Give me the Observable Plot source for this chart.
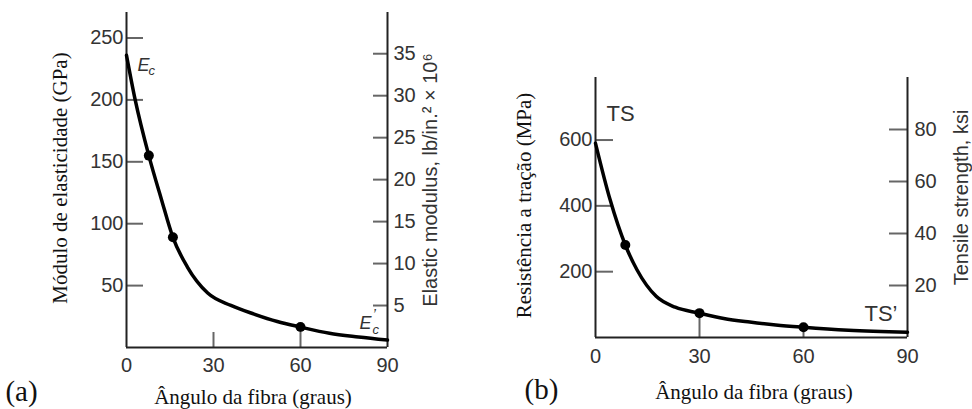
<!DOCTYPE html>
<html><head><meta charset="utf-8">
<script src="https://cdn.jsdelivr.net/npm/d3@7"></script>
<script src="https://cdn.jsdelivr.net/npm/@observablehq/plot@0.6"></script>
<style>
html,body{margin:0;padding:0;background:#fff;overflow:hidden;}
#wrap{position:relative;width:972px;height:409px;}
.panel{position:absolute;top:0;width:486px;height:409px;}
.panel svg{overflow:visible;}
</style></head><body>
<div id="wrap"><div class="panel" id="pa" style="left:0"></div><div class="panel" id="pb" style="left:486px"></div></div>
<script>
const SANS = "Liberation Sans, Arial, sans-serif";
const SERIF = "Liberation Serif, Times New Roman, serif";

// shared x axis (fiber angle, degrees)
const xTicks = [0, 30, 60, 90];

// (a) elastic modulus
const angleA   = [0, 3, 7.7, 12, 16, 21, 28, 36, 44, 52, 60, 70, 80, 90];
const modulusA = [236, 200, 155, 120, 89, 65, 44, 34, 27, 21, 16.5, 11.5, 8.5, 6];
const dotAngleA   = [7.7, 16, 60];
const dotModulusA = [155, 89, 16.5];
const gpaTicks = [50, 100, 150, 200, 250];
const msiTicks = [5, 10, 15, 20, 25, 30, 35];
const gpaPerMsi = 6.78;          // right-axis scale as drawn
const innerXTicksA = [30, 60];

// (b) tensile strength
const angleB    = [0, 4.2, 8.6, 12, 17.5, 23, 30, 37, 44.5, 52, 60, 73, 90];
const strengthB = [590, 419, 281, 205, 125, 92, 74, 58, 47, 38, 31, 22, 16];
const dotAngleB    = [8.6, 30, 60];
const dotStrengthB = [281, 74, 31];
const mpaTicks = [200, 400, 600];
const ksiTicks = [20, 40, 60, 80];
const mpaPerKsi = 7.9;           // right-axis scale as drawn

const curveA = angleA.map((x, i) => ({x, y: modulusA[i]}));
const dotsA = dotAngleA.map((x, i) => ({x, y: dotModulusA[i]}));
const curveB = angleB.map((x, i) => ({x, y: strengthB[i]}));
const dotsB = dotAngleB.map((x, i) => ({x, y: dotStrengthB[i]}));

const TICK = "#666", AXIS = "#222", LAB = "#333";
const T = {textAnchor: "middle", lineAnchor: "middle"};

const firstA = curveA[0], lastA = curveA[curveA.length - 1];
const plotA = Plot.plot({
  width: 486, height: 409,
  marginLeft: 126, marginRight: 99, marginTop: 12, marginBottom: 62,
  x: {domain: [0, 90]},
  y: {domain: [0, 270.6]},
  style: {fontFamily: SANS, fontSize: "20px", background: "white", overflow: "visible"},
  marks: [
    Plot.ruleY(gpaTicks, {y: d => d, x1: () => 0, x2: () => 0, insetRight: -17, stroke: TICK, strokeWidth: 2}),
    Plot.ruleY(msiTicks, {y: d => d * gpaPerMsi, x1: () => 90, x2: () => 90, insetLeft: -14, stroke: TICK, strokeWidth: 2}),
    Plot.ruleX(innerXTicksA, {x: d => d, y1: () => 0, y2: () => 0, insetTop: -15, stroke: TICK, strokeWidth: 2}),
    Plot.ruleX([0, 90], {stroke: AXIS, strokeWidth: 2}),
    Plot.ruleY([0], {stroke: AXIS, strokeWidth: 2}),
    Plot.axisY({ticks: gpaTicks, tickSize: 0, tickPadding: 3, label: null, color: LAB}),
    Plot.axisY({anchor: "right", ticks: msiTicks.map(v => v * gpaPerMsi), tickFormat: d => Math.round(d / gpaPerMsi), tickSize: 0, tickPadding: 6, label: null, color: LAB}),
    Plot.axisX({ticks: xTicks, tickSize: 0, tickPadding: 10, label: null, color: LAB}),
    Plot.line(curveA, {x: "x", y: "y", curve: "monotone-x", stroke: "#000", strokeWidth: 3.5}),
    Plot.dot(dotsA, {x: "x", y: "y", r: 5, fill: "#000"}),
    Plot.text([firstA], {x: "x", y: "y", text: () => "E", fontStyle: "italic", fontSize: 18, textAnchor: "start", dx: 11, dy: 10, fill: LAB}),
    Plot.text([firstA], {x: "x", y: "y", text: () => "c", fontStyle: "italic", fontSize: 13, textAnchor: "start", dx: 22, dy: 15, fill: LAB}),
    Plot.text([lastA], {x: "x", y: "y", text: () => "E", fontStyle: "italic", fontSize: 18, textAnchor: "start", dx: -28, dy: -17, fill: LAB}),
    Plot.text([lastA], {x: "x", y: "y", text: () => "\u2019", fontStyle: "italic", fontSize: 15, textAnchor: "start", dx: -15, dy: -26, fill: LAB}),
    Plot.text([lastA], {x: "x", y: "y", text: () => "c", fontStyle: "italic", fontSize: 13, textAnchor: "start", dx: -15, dy: -10, fill: LAB}),
    Plot.text(["Ângulo da fibra (graus)"], {...T, text: d => d, frameAnchor: "bottom", dx: -4, dy: 50, fontFamily: SERIF, fontSize: 21, fill: "#111"}),
    Plot.text(["(a)"], {...T, text: d => d, frameAnchor: "bottom-left", dx: -105, dy: 44, fontFamily: SERIF, fontSize: 29, fill: "#111"}),
    Plot.text(["Módulo de elasticidade (GPa)"], {...T, text: d => d, frameAnchor: "left", rotate: -90, dx: -66, dy: -2, fontFamily: SERIF, fontSize: 21, fill: "#111"}),
    Plot.text(["Elastic modulus, lb/in.² × 10⁶"], {...T, text: d => d, frameAnchor: "right", rotate: -90, dx: 43, fontFamily: SANS, fontSize: 20, fill: LAB})
  ]
});
document.getElementById("pa").appendChild(plotA);

const firstB = curveB[0], lastB = curveB[curveB.length - 1];
const plotB = Plot.plot({
  width: 486, height: 409,
  marginLeft: 109, marginRight: 65, marginTop: 77, marginBottom: 72,
  x: {domain: [0, 90]},
  y: {domain: [0, 790]},
  style: {fontFamily: SANS, fontSize: "20px", background: "white", overflow: "visible"},
  marks: [
    Plot.ruleY(mpaTicks, {y: d => d, x1: () => 0, x2: () => 0, insetRight: -18, stroke: TICK, strokeWidth: 2}),
    Plot.ruleY(ksiTicks, {y: d => d * mpaPerKsi, x1: () => 90, x2: () => 90, insetLeft: -18, stroke: TICK, strokeWidth: 2}),
    Plot.ruleX(dotsB.filter(d => xTicks.includes(d.x)), {x: "x", y1: () => 0, y2: "y", stroke: TICK, strokeWidth: 2}),
    Plot.ruleX([0, 90], {stroke: AXIS, strokeWidth: 2}),
    Plot.ruleY([0], {stroke: AXIS, strokeWidth: 2}),
    Plot.axisY({ticks: mpaTicks, tickSize: 0, tickPadding: 3, label: null, color: LAB}),
    Plot.axisY({anchor: "right", ticks: ksiTicks.map(v => v * mpaPerKsi), tickFormat: d => Math.round(d / mpaPerKsi), tickSize: 0, tickPadding: 7, label: null, color: LAB}),
    Plot.axisX({ticks: xTicks, tickSize: 0, tickPadding: 11, label: null, color: LAB}),
    Plot.line(curveB, {x: "x", y: "y", curve: "monotone-x", stroke: "#000", strokeWidth: 3.5}),
    Plot.dot(dotsB, {x: "x", y: "y", r: 5, fill: "#000"}),
    Plot.text([firstB], {x: "x", y: "y", text: () => "TS", fontSize: 22, textAnchor: "start", dx: 11, dy: -29, fill: LAB}),
    Plot.text([lastB], {x: "x", y: "y", text: () => "TS\u2019", fontSize: 22, textAnchor: "end", dx: -10, dy: -18, fill: LAB}),
    Plot.text(["Ângulo da fibra (graus)"], {...T, text: d => d, frameAnchor: "bottom", dx: 2.5, dy: 55, fontFamily: SERIF, fontSize: 21, fill: "#111"}),
    Plot.text(["(b)"], {...T, text: d => d, frameAnchor: "bottom-left", dx: -54, dy: 52, fontFamily: SERIF, fontSize: 29, fill: "#111"}),
    Plot.text(["Resistência a tração (MPa)"], {...T, text: d => d, frameAnchor: "left", rotate: -90, dx: -71, dy: -2, fontFamily: SERIF, fontSize: 21, fill: "#111"}),
    Plot.text(["Tensile strength, ksi"], {...T, text: d => d, frameAnchor: "right", rotate: -90, dx: 54, dy: -10, fontFamily: SANS, fontSize: 20, fill: LAB})
  ]
});
document.getElementById("pb").appendChild(plotB);
</script>
</body></html>
